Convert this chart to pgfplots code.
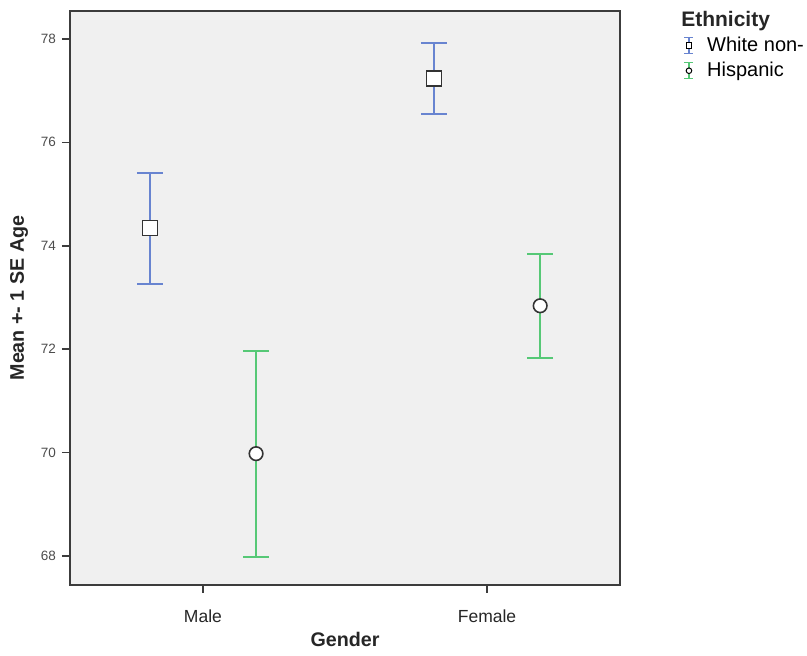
\documentclass[border=0pt]{standalone}
\usepackage{fontspec}
\setmainfont{Liberation Sans}
\usepackage{pgfplots}
\pgfplotsset{compat=1.18}
\definecolor{blueC}{RGB}{104,132,208}
\definecolor{greenC}{RGB}{86,200,118}
\definecolor{bgC}{RGB}{240,240,240}
\definecolor{frameC}{RGB}{60,60,60}
\pgfplotstableread{
x y e
-0.187 74.34 1.07
0.813 77.24 0.69
}\white
\pgfplotstableread{
x y e
0.187 69.98 1.99
1.187 72.84 1.01
}\hisp
\begin{document}
\begin{tikzpicture}
\path[use as bounding box] (-70pt,-71pt) rectangle (737pt,585pt);
\begin{axis}[
  scale only axis, width=550pt, height=574pt,
  clip=false,
  xmin=-0.468, xmax=1.468, ymin=67.44, ymax=78.54,
  xtick={0,1}, xticklabels={Male,Female},
  ytick={68,70,72,74,76,78},
  tick pos=left, tick align=outside, major tick length=8pt,
  every tick/.style={frameC, line width=1.5pt},
  axis line style={frameC, line width=2pt},
  axis background/.style={fill=bgC},
  /pgf/number format/assume math mode=true,
  x tick label style={font=\fontsize{17.5}{20}\selectfont, text=black!85, yshift=-13pt},
  y tick label style={font=\fontsize{13.5}{16}\selectfont, text=black!70, xshift=-2.5pt},
  xlabel={Gender}, ylabel={Mean +- 1 SE Age},
  every axis x label/.style={at={(axis description cs:0.5,0)}, anchor=base, yshift=-62pt, font=\bfseries\fontsize{19.7}{23}\selectfont, text=black!85},
  every axis y label/.style={at={(axis description cs:-0.084,0.5)}, anchor=base, rotate=90, font=\bfseries\fontsize{19.7}{23}\selectfont, text=black!85},
  legend style={at={(axis description cs:1.1155,0.959)}, anchor=north west, draw=none, fill=none, font=\fontsize{20}{24}\selectfont, row sep=5pt, column sep=11pt, inner sep=0pt},
  legend cell align=left,
]
% error bars (drawn first)
\addplot[draw=none, mark=none,
  error bars/.cd, y dir=both, y explicit, error mark=-,
  error bar style={blueC, line width=2.4pt},
  error mark options={blueC, line width=2pt, mark size=13pt, rotate=90},
  /pgfplots/legend image code/.code={
    \draw[blueC, line width=1.5pt] (0pt,-9pt) -- (0pt,7pt) (-4.5pt,-9pt) -- (4.5pt,-9pt) (-4.5pt,7pt) -- (4.5pt,7pt);
    \draw[black, fill=white, line width=1pt] (-2.8pt,-3.8pt) rectangle (2.8pt,1.8pt);
  }]
  table[x=x, y=y, y error=e] {\white};
\addlegendentry{White non-}
\addplot[draw=none, mark=none,
  error bars/.cd, y dir=both, y explicit, error mark=-,
  error bar style={greenC, line width=2.4pt},
  error mark options={greenC, line width=2pt, mark size=13pt, rotate=90},
  /pgfplots/legend image code/.code={
    \draw[greenC, line width=1.5pt] (0pt,-9pt) -- (0pt,7pt) (-4.5pt,-9pt) -- (4.5pt,-9pt) (-4.5pt,7pt) -- (4.5pt,7pt);
    \draw[black, fill=white, line width=1pt] (0pt,-1pt) circle (2.8pt);
  }]
  table[x=x, y=y, y error=e] {\hisp};
\addlegendentry{Hispanic}
% markers on top
\addplot[forget plot, only marks, mark=square*, mark size=7.5pt,
  mark options={fill=white, draw=black!80, line width=1.6pt}]
  table[x=x, y=y] {\white};
\addplot[forget plot, only marks, mark=*, mark size=6.8pt,
  mark options={fill=white, draw=black!80, line width=1.6pt}]
  table[x=x, y=y] {\hisp};
\node[anchor=base west, font=\bfseries\fontsize{21}{25}\selectfont, text=black!85] at (rel axis cs:1.105,0.9727) {Ethnicity};
\end{axis}
\end{tikzpicture}
\end{document}
